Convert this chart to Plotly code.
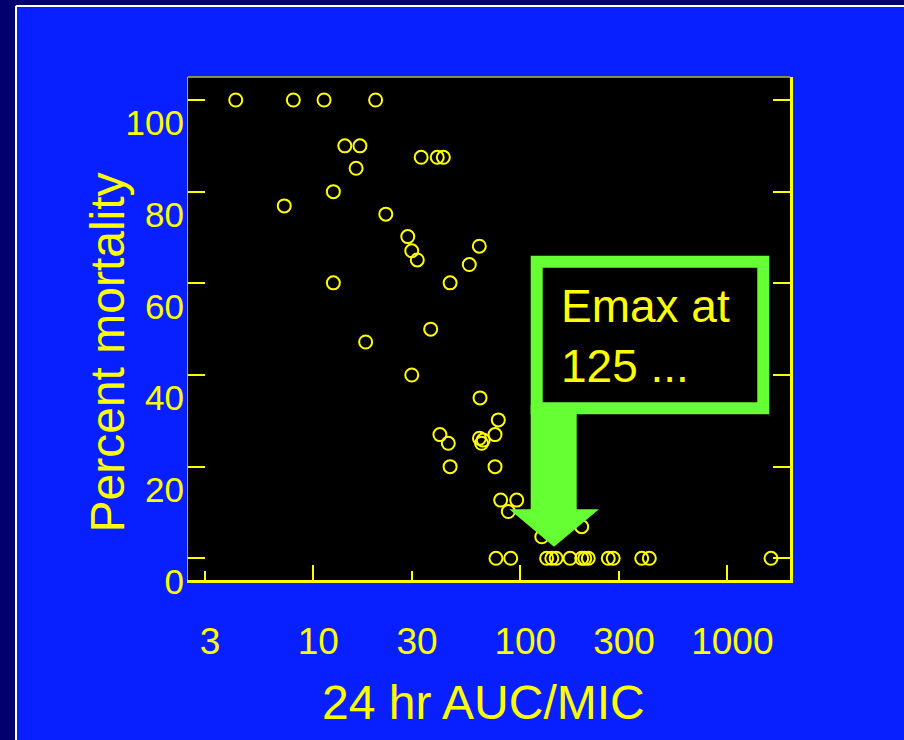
import plotly.graph_objects as go

# ---- data ----
auc_mic = [4.22, 8.01, 11.27, 20.0, 14.2, 16.8, 16.1, 33.2, 39.7, 42.5, 12.5, 7.24, 22.4,
           28.6, 29.9, 31.8, 63.4, 56.7, 12.5, 45.8, 36.9, 17.9, 29.9, 63.9, 78.3, 40.9,
           75.5, 44.9, 63.5, 65.0, 66.2, 45.8, 75.5, 80.4, 96.1, 87.5, 198, 127,
           76.3, 89.9, 134, 142, 149, 174, 198, 205, 213, 266, 281, 386, 420, 1626]
mortality = [100, 100, 100, 100, 90, 90, 85.1, 87.5, 87.5, 87.5, 80, 76.9, 75.1,
             70.2, 67.1, 65.1, 68.1, 64.1, 60.1, 60.1, 50.0, 47.2, 40, 35.0, 30.2, 27.0,
             27.0, 25.1, 26.2, 25.1, 25.8, 20, 20, 12.7, 12.7, 10.2, 6.9, 4.7,
             0, 0, 0, 0, 0, 0, 0, 0, 0, 0, 0, 0, 0, 0]
x_major_ticks = [10, 100, 1000]
x_minor_ticks = [3, 30, 300]
y_ticks = [0, 20, 40, 60, 80, 100]

YEL = "#FFFF00"
GREEN = "#66FF33"
BLUE = "#0820FF"
NAVY = "#02006E"
FONT = "Liberation Sans, Arial, sans-serif"

W, H = 904, 740
L, R, T, B = 188, 790, 77, 580


def px(x):
    return (x - L) / (R - L)


def py(y):
    return (B - y) / (B - T)


fig = go.Figure()
fig.add_trace(go.Scatter(
    x=auc_mic, y=mortality, mode="markers",
    marker=dict(symbol="circle-open", size=13, color=YEL, line=dict(width=2, color=YEL)),
    showlegend=False, hoverinfo="skip"))
# carrier trace so the secondary (short-tick) x axis is drawn; holds no visible marks
fig.add_trace(go.Scatter(x=x_minor_ticks, y=[None] * len(x_minor_ticks), xaxis="x2",
                         mode="markers", showlegend=False, hoverinfo="skip"))
# carrier trace for the mirrored right-hand y axis
fig.add_trace(go.Scatter(x=[None], y=[None], yaxis="y2", mode="markers",
                         showlegend=False, hoverinfo="skip"))

xrange = [0.3947, 3.3029]
yrange = [-4.73, 105.02]

axfont = dict(family=FONT, size=37, color=YEL)

fig.update_layout(
    width=W, height=H,
    margin=dict(l=L, r=W - R, t=T, b=H - B),
    paper_bgcolor=BLUE, plot_bgcolor="black",
    showlegend=False,
    xaxis=dict(type="log", range=xrange, tickmode="array", tickvals=x_major_ticks,
               ticktext=[str(v) for v in x_major_ticks],
               ticks="inside", ticklen=15, tickwidth=2, tickcolor=YEL,
               showline=True, linewidth=3, linecolor=YEL, mirror=False,
               showgrid=False, zeroline=False, tickfont=axfont,
               ticklabelshift=5, ticklabelstandoff=27),
    xaxis2=dict(type="log", range=xrange, overlaying="x", anchor="y", side="bottom",
                tickmode="array", tickvals=x_minor_ticks,
                ticktext=[str(v) for v in x_minor_ticks],
                ticks="inside", ticklen=9, tickwidth=2, tickcolor=YEL,
                showline=False, showgrid=False, zeroline=False, tickfont=axfont,
                ticklabelshift=5, ticklabelstandoff=36),
    yaxis=dict(range=yrange, tickmode="array", tickvals=y_ticks,
               ticktext=[str(v) for v in y_ticks],
               ticks="inside", ticklen=17, tickwidth=2, tickcolor=YEL,
               showline=True, linewidth=1, linecolor="#B8B820", mirror=False,
               showgrid=False, zeroline=False,
               tickfont=dict(family=FONT, size=35, color=YEL),
               ticklabelshift=23, ticklabelstandoff=-4),
    yaxis2=dict(range=yrange, overlaying="y", anchor="x", side="right",
                tickmode="array", tickvals=y_ticks,
                ticks="inside", ticklen=17, tickwidth=2, tickcolor=YEL,
                showticklabels=False, showline=True, linewidth=3, linecolor=YEL,
                showgrid=False, zeroline=False),
)

shapes = [
    # slide border: navy strips and white rule
    dict(type="rect", xref="paper", yref="paper", x0=px(-5), x1=px(15), y0=py(H + 5), y1=py(-5),
         fillcolor=NAVY, line=dict(width=0), layer="below"),
    dict(type="rect", xref="paper", yref="paper", x0=px(-5), x1=px(W + 5), y0=py(5), y1=py(-5),
         fillcolor=NAVY, line=dict(width=0), layer="below"),
    dict(type="line", xref="paper", yref="paper", x0=px(16), x1=px(16), y0=py(6), y1=py(H + 5),
         line=dict(color="white", width=2), layer="below"),
    dict(type="line", xref="paper", yref="paper", x0=px(16), x1=px(W + 5), y0=py(6), y1=py(6),
         line=dict(color="white", width=2), layer="below"),
    # top frame line
    dict(type="line", xref="paper", yref="paper", x0=0, x1=1, y0=1, y1=1,
         line=dict(color="#B8B820", width=1.5)),
    # callout box
    dict(type="rect", xref="paper", yref="paper", x0=px(536.7), x1=px(763.3),
         y0=py(408.3), y1=py(261.7), fillcolor="black", line=dict(color=GREEN, width=12)),
]
arrow_pts = [(530.7, 405), (576.7, 405), (576.7, 509.3), (599, 509.3), (554, 546.7),
             (509.3, 509.3), (530.7, 509.3)]
path = "M " + " L ".join(f"{px(a):.5f},{py(b):.5f}" for a, b in arrow_pts) + " Z"
shapes.append(dict(type="path", xref="paper", yref="paper", path=path,
                   fillcolor=GREEN, line=dict(width=0)))
fig.update_layout(shapes=shapes)

fig.add_annotation(text="Percent mortality", textangle=-90, xref="paper", yref="paper",
                   x=px(107), y=py(352.5), xanchor="center", yanchor="middle", showarrow=False,
                   font=dict(family=FONT, size=48, color=YEL))
fig.add_annotation(text="24 hr AUC/MIC", xref="paper", yref="paper",
                   x=px(483.5), y=py(702.5), xanchor="center", yanchor="middle", showarrow=False,
                   font=dict(family=FONT, size=48, color=YEL))
fig.add_annotation(text="Emax at<br>125 ...", xref="paper", yref="paper", align="left",
                   x=px(559), y=py(336), xanchor="left", yanchor="middle", showarrow=False,
                   font=dict(family=FONT, size=46, color=YEL))

fig.write_html("out.html", config={"displayModeBar": False},
               post_script="document.body.style.margin='0px';")
